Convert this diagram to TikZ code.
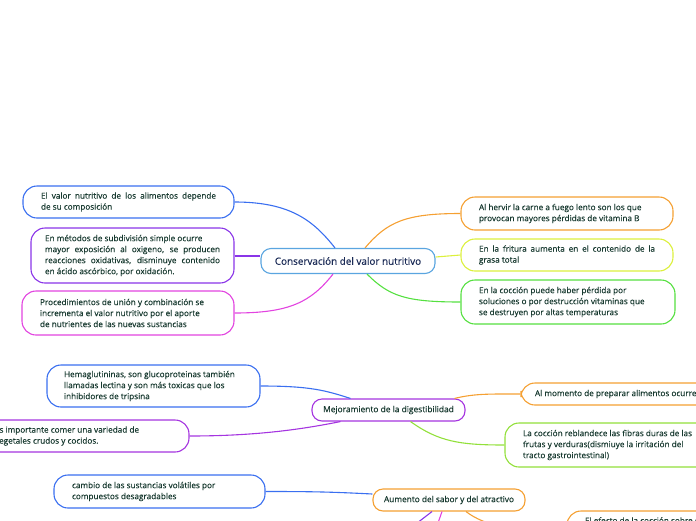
\documentclass[tikz,border=0pt]{standalone}
\usepackage{fontspec}
\setmainfont{Open Sans}[FakeBold=0.3]
\definecolor{txt}{HTML}{183A30}
\definecolor{navy}{HTML}{1A2A55}
\definecolor{cblue}{HTML}{3A6FF0}
\definecolor{cpurple}{HTML}{8A35E8}
\definecolor{cviolet}{HTML}{A535E0}
\definecolor{cmagenta}{HTML}{E244E0}
\definecolor{corange}{HTML}{F5A032}
\definecolor{cyellow}{HTML}{DCF03C}
\definecolor{cgreen}{HTML}{55E040}
\definecolor{clime}{HTML}{92E03A}
\definecolor{csky}{HTML}{5AA5E0}
\begin{document}
\begin{tikzpicture}[x=1pt,y=-1pt,
    leaf/.style={draw, line width=1.1pt, rounded corners=14pt, fill=white, text=txt,
      font=\fontsize{8.2}{11}\selectfont, align=justify, inner xsep=18pt, inner ysep=0pt},
    hub/.style={draw, line width=1.1pt, rounded corners=10pt, fill=white, text=txt,
      font=\fontsize{8.3}{10}\selectfont, inner sep=0pt, minimum height=22pt},
    link/.style={line width=1.1pt}]
  \clip (0,0) rectangle (696,520);

  % central topic
  \node[hub, draw=csky, text=navy, font=\fontsize{9.9}{11}\selectfont,
    minimum width=174pt, minimum height=25pt] (cons) at (348,261) {Conservación del valor nutritivo};

  \node[leaf, draw=cblue, text width=175pt, minimum height=32pt] (valor) at (128.5,202)
    {El valor nutritivo de los alimentos depende\linebreak de su composición};
  \node[leaf, draw=cpurple, text width=175pt, inner xsep=14pt, minimum height=55pt] (subdiv) at (132.5,255.5)
    {En métodos de subdivisión simple ocurre\\mayor exposición al oxigeno, se producen\linebreak reacciones oxidativas, disminuye contenido\linebreak en ácido ascórbico, por oxidación.};
  \node[leaf, draw=cmagenta, text width=176pt, minimum height=44pt] (union) at (128,313)
    {Procedimientos de unión y combinación se\\incrementa el valor nutritivo por el aporte\\de nutrientes de las nuevas sustancias};

  \node[leaf, draw=corange, text width=176pt, minimum height=33pt] (hervir) at (567,213.5)
    {Al hervir la carne a fuego lento son los que\\provocan mayores pérdidas de vitamina B};
  \node[leaf, draw=cyellow, text width=176pt, minimum height=32pt] (fritura) at (567,255)
    {En la fritura aumenta en el contenido de la\linebreak grasa total};
  \node[leaf, draw=cgreen, text width=178pt, minimum height=44pt] (coccion) at (568,302)
    {En la cocción puede haber pérdida por\\soluciones o por destrucción vitaminas que\\se destruyen por altas temperaturas};

  \draw[link, cblue] (valor.east) .. controls +(55,0) and +(-22,-28) .. ([xshift=-13pt]cons.north);
  \draw[link, cpurple] ([yshift=-0.5pt]subdiv.east) -- ([yshift=5pt]cons.west);
  \draw[link, cmagenta] (union.east) .. controls +(55,0) and +(-22,28) .. ([xshift=-15pt]cons.south);
  \draw[link, corange] ([xshift=17pt]cons.north) .. controls +(22,-26) and +(-55,0) .. (hervir.west);
  \draw[link, cyellow] ([yshift=4pt]cons.east) -- (fritura.west);
  \draw[link, cgreen] ([xshift=19pt]cons.south) .. controls +(22,22) and +(-55,0) .. (coccion.west);

  % digestibilidad
  \node[hub, draw=cviolet, minimum width=153pt, font=\fontsize{8.4}{10}\selectfont] (mejora) at (388.5,410) {Mejoramiento de la digestibilidad};
  \node[leaf, draw=cblue, text width=179pt, inner xsep=17pt, minimum height=42pt] (hemag) at (153.5,386)
    {Hemaglutininas, son glucoproteinas también\\llamadas lectina y son más toxicas que los\\inhibidores de tripsina};
  \node[leaf, draw=cviolet, text width=176pt, minimum height=32pt] (variedad) at (83,436)
    {Es importante comer una variedad de\\vegetales crudos y cocidos.};
  \node[leaf, draw=corange, text width=184pt, inner xsep=14pt, minimum height=22pt] (momento) at (627,394)
    {Al momento de preparar alimentos ocurre:};
  \node[leaf, draw=clime, text width=176pt, minimum height=44pt] (fibras) at (611,445)
    {La cocción reblandece las fibras duras de las\\frutas y verduras(dismiuye la irritación del\\tracto gastrointestinal)};

  \draw[link, cblue] (hemag.east) .. controls +(50,0) and +(-25,-8) .. ([xshift=-38pt]mejora.north);
  \draw[link, cviolet] (variedad.east) .. controls +(70,0) and +(-35,7) .. ([xshift=-48pt]mejora.south);
  \draw[link, corange] ([xshift=66pt]mejora.north) .. controls +(20,-5) and +(-30,0) .. (momento.west);
  \draw[link, clime] ([xshift=22pt]mejora.south) .. controls +(28,20) and +(-45,0) .. (fibras.west);

  % sabor
  \node[hub, draw=corange, minimum width=152pt] (sabor) at (449,500) {Aumento del sabor y del atractivo};
  \node[leaf, draw=cblue, text width=175pt, minimum height=33pt] (volatil) at (159.5,491.5)
    {cambio de las sustancias volátiles por\\compuestos desagradables};
  \node[leaf, draw=corange, text width=176pt, minimum height=44pt] (efecto) at (673,533)
    {El efecto de la cocción sobre el\\\strut\\\strut};
  \coordinate (bajo1) at (395,540);
  \coordinate (bajo2) at (432,540);

  \draw[link, cblue] (volatil.east) .. controls +(50,0) and +(-40,-2) .. ([yshift=6pt]sabor.west);
  \draw[link, cpurple] ([xshift=-17pt]sabor.south) -- (bajo1);
  \draw[link, cmagenta] ([xshift=-7pt]sabor.south) -- (bajo2);
  \draw[link, corange] ([xshift=17pt]sabor.south) .. controls +(18,14) and +(-50,0) .. (efecto.west);
\end{tikzpicture}
\end{document}
